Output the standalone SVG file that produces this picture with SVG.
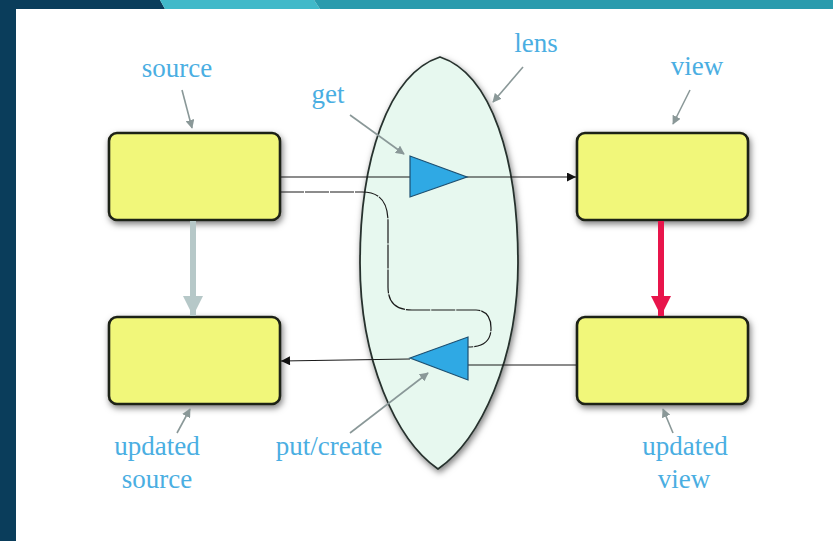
<svg xmlns="http://www.w3.org/2000/svg" width="833" height="541" viewBox="0 0 833 541">
  <style>
    .box { fill: #f1f77a; stroke: #1f2018; stroke-width: 2.6; filter: url(#shadow); }
    .label { font-family: "Liberation Serif", "Times New Roman", serif; font-size: 27px; fill: #4aaee2; text-anchor: middle; }
    .pointer { stroke: #8a9898; stroke-width: 1.6; fill: none; marker-end: url(#pointerHead); }
    .flow { stroke: #1a1a1a; stroke-width: 1.2; fill: none; }
    .tri { fill: #2fa9e4; stroke: #1d4f70; stroke-width: 1.2; }
  </style>
  <defs>
    <filter id="shadow" x="-20%" y="-20%" width="140%" height="150%">
      <feDropShadow dx="1.5" dy="3" stdDeviation="3" flood-color="#000" flood-opacity="0.5"/>
    </filter>
    <marker id="pointerHead" viewBox="0 0 10 10" refX="9" refY="5" markerWidth="9" markerHeight="9" markerUnits="userSpaceOnUse" orient="auto">
      <path d="M0,0 L10,5 L0,10 Z" fill="#8a9898"/>
    </marker>
    <marker id="flowHead" viewBox="0 0 10 10" refX="10" refY="5" markerWidth="12" markerHeight="9" markerUnits="userSpaceOnUse" orient="auto">
      <path d="M0,0 L10,5 L0,10 Z" fill="#111"/>
    </marker>
    <marker id="grayHead" viewBox="0 0 10 10" refX="10" refY="5" markerWidth="22" markerHeight="20" markerUnits="userSpaceOnUse" orient="auto">
      <path d="M0,0 L10,5 L0,10 Z" fill="#b6c8c8"/>
    </marker>
    <marker id="redHead" viewBox="0 0 10 10" refX="10" refY="5" markerWidth="22" markerHeight="20" markerUnits="userSpaceOnUse" orient="auto">
      <path d="M0,0 L10,5 L0,10 Z" fill="#e8154b"/>
    </marker>
  </defs>

  <!-- page frame -->
  <rect x="0" y="0" width="833" height="541" fill="#ffffff"/>
  <rect x="0" y="0" width="16" height="541" fill="#0a3d5b"/>
  <polygon points="0,0 160,0 165,9 0,9" fill="#0a3d5b"/>
  <polygon points="160,0 314,0 320,9 165,9" fill="#41b9c9"/>
  <polygon points="314,0 833,0 833,9 320,9" fill="#2a9bad"/>

  <!-- lens -->
  <g id="lens">
    <path d="M440,57 C492,74 518,160 518,263 C518,360 480,440 438,469 C396,440 360,360 360,263 C360,160 388,74 440,57 Z"
          fill="#e7f8ef" stroke="#28322e" stroke-width="1.8" filter="url(#shadow)"/>
  </g>

  <!-- boxes -->
  <g id="source"><rect class="box" x="109" y="133" width="171" height="87" rx="8"/></g>
  <g id="view"><rect class="box" x="577" y="133" width="171" height="87" rx="8"/></g>
  <g id="updated-source"><rect class="box" x="109" y="317" width="171" height="87" rx="8"/></g>
  <g id="updated-view"><rect class="box" x="577" y="317" width="171" height="87" rx="8"/></g>

  <!-- connectors -->
  <g id="connectors">
    <line class="flow" x1="280" y1="177" x2="576" y2="177" marker-end="url(#flowHead)"/>
    <path class="flow" stroke-dasharray="24 1" d="M280,192 L362,192 C380,192 388,202 388,222 L388,287 C388,303 396,310 412,310 L476,310 C486,310 491,318 491,328 C491,341 484,347 468,347"/>
    <line class="flow" x1="576" y1="365" x2="468" y2="365"/>
    <line class="flow" x1="410" y1="359" x2="281" y2="361" marker-end="url(#flowHead)"/>
    <line x1="193" y1="221" x2="193" y2="316" stroke="#b6c8c8" stroke-width="6" marker-end="url(#grayHead)"/>
    <line x1="661" y1="221" x2="661" y2="316" stroke="#e8154b" stroke-width="6" marker-end="url(#redHead)"/>
  </g>

  <!-- lens operations -->
  <g id="get"><polygon class="tri" points="410,156 410,197 467,177"/></g>
  <g id="put-create"><polygon class="tri" points="410,358 468,337 468,380"/></g>

  <!-- label pointers -->
  <g id="pointers">
    <line class="pointer" x1="182" y1="90" x2="192" y2="128"/>
    <line class="pointer" x1="690" y1="90" x2="673" y2="124"/>
    <line class="pointer" x1="523" y1="67" x2="493" y2="102"/>
    <line class="pointer" x1="350" y1="115" x2="404" y2="154"/>
    <line class="pointer" x1="350" y1="433" x2="428" y2="373"/>
    <line class="pointer" x1="177" y1="433" x2="190" y2="409"/>
    <line class="pointer" x1="673" y1="433" x2="663" y2="409"/>
  </g>

  <!-- labels -->
  <g id="labels">
    <text class="label" x="177" y="77">source</text>
    <text class="label" x="697" y="75">view</text>
    <text class="label" x="536" y="52">lens</text>
    <text class="label" x="328" y="103">get</text>
    <text class="label" x="329" y="455">put/create</text>
    <text class="label" x="157" y="455">updated</text>
    <text class="label" x="157" y="488">source</text>
    <text class="label" x="685" y="455">updated</text>
    <text class="label" x="684" y="488">view</text>
  </g>
</svg>
